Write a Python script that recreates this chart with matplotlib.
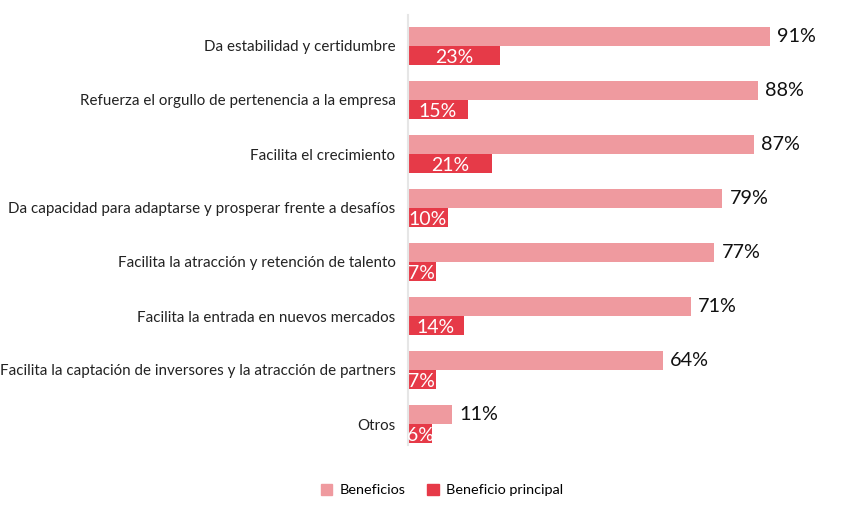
import matplotlib
matplotlib.use("Agg")
import matplotlib.pyplot as plt
from matplotlib.patches import Patch

plt.rcParams['font.family'] = ['Lato', 'DejaVu Sans']

categories = [
    "Da estabilidad y certidumbre",
    "Refuerza el orgullo de pertenencia a la empresa",
    "Facilita el crecimiento",
    "Da capacidad para adaptarse y prosperar frente a desafíos",
    "Facilita la atracción y retención de talento",
    "Facilita la entrada en nuevos mercados",
    "Facilita la captación de inversores y la atracción de partners",
    "Otros",
]
beneficios = [91, 88, 87, 79, 77, 71, 64, 11]
principal = [23, 15, 21, 10, 7, 14, 7, 6]
series_names = ["Beneficios", "Beneficio principal"]

c_light = "#EF9A9F"
c_dark = "#E63A48"

W, H = 859, 516
fig = plt.figure(figsize=(W / 100, H / 100), dpi=100)
left, right, top, bottom = 408, 806, 15, 445
ax = fig.add_axes([left / W, 1 - bottom / H, (right - left) / W, (bottom - top) / H])

row_px = 54.0
bh = 19 / row_px
n = len(categories)
ys = list(range(n))

b1 = ax.barh([y - bh / 2 for y in ys], beneficios, height=bh, color=c_light, edgecolor="none")
b2 = ax.barh([y + bh / 2 for y in ys], principal, height=bh, color=c_dark, edgecolor="none")

ax.set_xlim(0, 100)
ax.set_ylim(n - 1 + 21 / row_px, -31 / row_px)

for y, v in zip(ys, beneficios):
    ax.text(v + 1.8, y - bh / 2, f"{v}%", va="center", ha="left", fontsize=14.3, color="#111111")

for rect, y, v in zip(b2.patches, ys, principal):
    t = ax.text(v / 2, y + bh / 2 + 0.03, f"{v}%", va="center", ha="center", fontsize=14, color="white")
    t.set_clip_path(rect)

ax.set_yticks(ys)
ax.set_yticklabels(categories, fontsize=10.9, color="#222222")
ax.tick_params(axis="y", length=0, pad=9)
ax.set_xticks([])
for s in ["top", "right", "bottom"]:
    ax.spines[s].set_visible(False)
ax.spines["left"].set_color("#E6E6E6")
ax.spines["left"].set_linewidth(1.5)

handles = [Patch(color=c_light), Patch(color=c_dark)]
fig.legend(handles, series_names, loc="center", bbox_to_anchor=(442 / W, 1 - 490 / H),
           ncol=2, frameon=False, fontsize=10.4, handlelength=0.8, handleheight=0.8,
           columnspacing=1.5, handletextpad=0.5)

fig.savefig("out.png", dpi=100)
